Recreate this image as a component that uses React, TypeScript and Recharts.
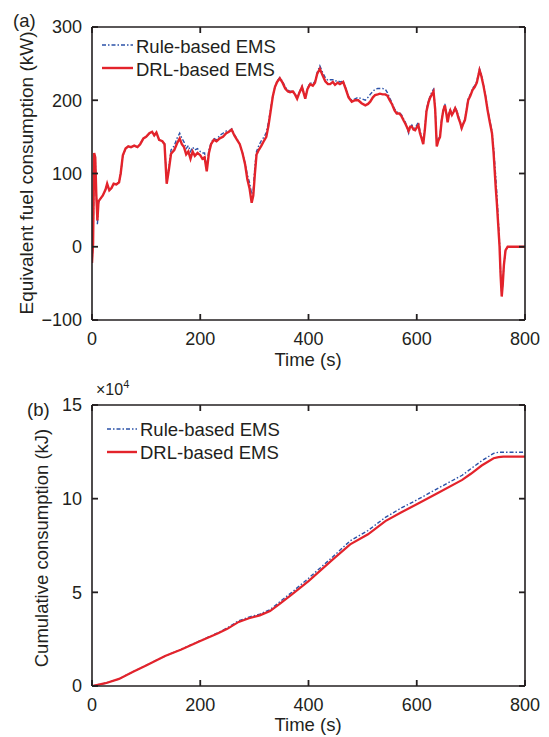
import React from 'react';
import { LineChart, Line, XAxis, YAxis } from 'recharts';

const FONT = '"Liberation Sans", Arial, Helvetica, sans-serif';
const RED = '#e3232b';
const BLUE = '#2b52a8';
const AXIS = '#231f20';

// (a) Equivalent fuel consumption (kW) vs time (s)
const timeS = [
  0, 2, 4, 6, 8, 10, 12, 16, 20, 25, 28, 32, 36, 40, 45, 50, 53, 57, 62, 67, 72, 78, 84, 89, 95, 100,
  106, 111, 115, 119, 124, 130, 134, 138, 142, 146, 152, 157, 162, 166, 170, 174, 178, 182, 186, 190,
  195, 200, 204, 208, 212, 216, 220, 225, 230, 236, 242, 248, 253, 258, 263, 268, 273, 278, 283, 287,
  291, 295, 298, 301, 304, 308, 313, 318, 322, 326, 330, 334, 338, 342, 347, 352, 357, 362, 366, 371,
  375, 379, 383, 388, 391, 394, 398, 403, 408, 412, 416, 421, 426, 431, 436, 440, 445, 449, 454, 458,
  464, 469, 474, 480, 486, 492, 498, 505, 510, 514, 519, 523, 528, 532, 537, 542, 546, 550, 554, 559,
  563, 568, 572, 576, 579, 582, 585, 588, 591, 594, 597, 600, 603, 606, 609, 612, 615, 618, 622, 625,
  628, 631, 634, 637, 640, 643, 646, 649, 652, 655, 657, 660, 662, 665, 668, 671, 674, 677, 680, 683,
  686, 689, 692, 695, 699, 703, 707, 711, 716, 719, 723, 727, 731, 735, 739, 742, 744, 746, 748, 750,
  753, 755, 757, 759, 761, 764, 768, 800,
];
const drlPower = [
  -22, 5, 128, 122, 70, 36, 62, 66, 70, 78, 86, 77, 80, 86, 85, 88, 100, 125, 134, 137, 136, 138, 136, 140, 148, 150,
  155, 157, 152, 156, 146, 144, 140, 86, 105, 127, 132, 141, 148, 140, 136, 126, 130, 120, 130, 124,
  128, 125, 120, 122, 103, 128, 140, 146, 144, 148, 150, 155, 157, 160, 152, 146, 140, 128, 112, 92,
  80, 60, 70, 100, 126, 132, 138, 145, 150, 165, 185, 205, 218, 225, 230, 224, 216, 212, 211, 212,
  208, 202, 210, 218, 210, 202, 215, 222, 220, 224, 236, 243, 234, 226, 222, 222, 225, 221, 224, 222,
  225, 215, 204, 198, 200, 200, 196, 193, 195, 198, 204, 207, 208, 209, 208, 208, 206, 200, 195, 186,
  182, 182, 178, 172, 168, 163, 158, 164, 164, 160, 159, 163, 166, 155, 148, 140, 160, 185, 198, 204,
  208, 212, 188, 137, 145, 150, 172, 186, 193, 180, 170, 182, 186, 180, 184, 189, 184, 176, 170, 162,
  168, 173, 186, 200, 206, 214, 218, 224, 241, 234, 221, 205, 186, 170, 155, 128, 104, 80, 60, 36,
  0, -40, -68, -50, -25, -5, 0, 0,
];
const rulePower = [
  -22, 5, 126, 120, 72, 30, 60, 66, 70, 78, 85, 77, 80, 85, 85, 88, 100, 124, 134, 137, 136, 138, 136, 140, 148, 150,
  155, 157, 152, 156, 146, 144, 141, 90, 108, 132, 138, 148, 155, 148, 143, 134, 138, 130, 136, 132,
  134, 130, 128, 128, 108, 132, 142, 148, 146, 152, 155, 158, 158, 161, 153, 147, 140, 128, 114, 98,
  88, 72, 78, 110, 130, 138, 145, 150, 156, 170, 188, 206, 218, 226, 231, 226, 218, 214, 212, 213,
  209, 203, 211, 219, 211, 204, 216, 224, 222, 226, 238, 247, 238, 231, 227, 228, 228, 226, 227, 225,
  226, 216, 205, 200, 202, 204, 202, 200, 204, 208, 212, 215, 216, 216, 216, 215, 210, 203, 197, 188,
  184, 183, 180, 174, 170, 162, 155, 163, 166, 162, 162, 166, 170, 158, 150, 144, 163, 188, 200, 206,
  212, 215, 190, 142, 148, 152, 174, 188, 195, 182, 174, 184, 188, 182, 186, 190, 186, 178, 172, 160,
  168, 175, 188, 202, 208, 216, 220, 226, 243, 236, 223, 207, 188, 172, 158, 135, 115, 95, 72, 45,
  5, -38, -66, -50, -25, -5, 0, 0,
];

// (b) Cumulative consumption (x10^4 kJ) vs time (s)
const cumTimeS = [0, 25, 50, 75, 100, 135, 165, 200, 232, 250, 271, 290, 310, 329, 348, 370, 400, 445, 477, 510, 542, 570, 600, 639, 684, 700, 720, 742, 751, 760, 800];
const drlCumulative = [0, 0.15, 0.38, 0.75, 1.1, 1.6, 1.95, 2.4, 2.8, 3.05, 3.42, 3.62, 3.77, 4.0, 4.41, 4.9, 5.6, 6.76, 7.56, 8.1, 8.8, 9.25, 9.7, 10.3, 11.0, 11.33, 11.77, 12.16, 12.22, 12.24, 12.24];
const ruleCumulative = [0, 0.15, 0.38, 0.75, 1.1, 1.6, 1.96, 2.42, 2.83, 3.1, 3.48, 3.68, 3.84, 4.08, 4.52, 5.02, 5.75, 6.9, 7.75, 8.3, 9.0, 9.48, 9.93, 10.55, 11.25, 11.6, 12.02, 12.42, 12.48, 12.48, 12.48];

const timeTicks = [0, 200, 400, 600, 800];
const powerTicks = [-100, 0, 100, 200, 300];
const cumTicks = [0, 5, 10, 15];

const powerData = timeS.map((t, i) => ({ t, drl: drlPower[i], rule: rulePower[i] }));
const cumData = cumTimeS.map((t, i) => ({ t, drl: drlCumulative[i], rule: ruleCumulative[i] }));

const axisLineStyle = { stroke: AXIS, strokeWidth: 1.6 };
const fmt = (v: number) => (v < 0 ? '\u2212' + Math.abs(v) : String(v));
const TL = 6; // tick length
const TW = 1.8; // tick width

function BottomTick(props: any) {
  const { x, y, payload } = props;
  return (
    <g>
      <rect x={x - TW / 2} y={y - TL} width={TW} height={TL} fill={AXIS} />
      <text x={x} y={y + 12} dy="0.71em" textAnchor="middle" fill={AXIS} fontSize={18} fontFamily={FONT}>
        {fmt(payload.value)}
      </text>
    </g>
  );
}
function TopTick(props: any) {
  const { x, y } = props;
  return <rect x={x - TW / 2} y={y} width={TW} height={TL} fill={AXIS} />;
}
function LeftTick(props: any) {
  const { x, y, payload } = props;
  return (
    <g>
      <rect x={x} y={y - TW / 2} width={TL} height={TW} fill={AXIS} />
      <text x={x - 10} y={y} dy="0.355em" textAnchor="end" fill={AXIS} fontSize={18} fontFamily={FONT}>
        {fmt(payload.value)}
      </text>
    </g>
  );
}
function RightTick(props: any) {
  const { x, y } = props;
  return <rect x={x - TL} y={y - TW / 2} width={TL} height={TW} fill={AXIS} />;
}

function renderAxes(yDomain: [number, number], yTicks: number[]) {
  return [
    <XAxis key="xb" xAxisId="b" dataKey="t" type="number" domain={[0, 800]} ticks={timeTicks} interval={0}
      orientation="bottom" height={30} tickSize={0} tickMargin={0} axisLine={axisLineStyle}
      tickLine={false} tick={<BottomTick />} allowDataOverflow />,
    <XAxis key="xt" xAxisId="t" dataKey="t" type="number" domain={[0, 800]} ticks={timeTicks} interval={0}
      orientation="top" height={1} tickSize={0} tickMargin={0} axisLine={axisLineStyle} tickLine={false}
      tick={<TopTick />} allowDataOverflow />,
    <YAxis key="yl" yAxisId="l" type="number" domain={yDomain} ticks={yTicks} interval={0} width={60}
      tickSize={0} tickMargin={0} axisLine={axisLineStyle} tickLine={false} tick={<LeftTick />}
      allowDataOverflow />,
    <YAxis key="yr" yAxisId="r" orientation="right" type="number" domain={yDomain} ticks={yTicks}
      interval={0} width={1} tickSize={0} tickMargin={0} axisLine={axisLineStyle} tickLine={false}
      tick={<RightTick />} allowDataOverflow />,
  ];
}

export default function App() {
  return (
    <div style={{ position: 'absolute', left: 0, top: 0, width: 549, height: 737, background: '#fff', overflow: 'hidden' }}>
      <div style={{ position: 'absolute', left: 0, top: 0 }}>
        <LineChart width={549} height={360} data={powerData} margin={{ top: 26, right: 23, bottom: 10, left: 32 }}>
          {renderAxes([-100, 300], powerTicks)}
          <Line xAxisId="b" yAxisId="l" dataKey="rule" type="linear" stroke={BLUE} strokeWidth={1.4}
            strokeDasharray="4 2 1.5 2" dot={false} isAnimationActive={false} />
          <Line xAxisId="b" yAxisId="l" dataKey="drl" type="linear" stroke={RED} strokeWidth={2.4}
            dot={false} isAnimationActive={false} />
        </LineChart>
      </div>
      <div style={{ position: 'absolute', left: 0, top: 370 }}>
        <LineChart width={549} height={367} data={cumData} margin={{ top: 34, right: 23, bottom: 21, left: 32 }}>
          {renderAxes([0, 15], cumTicks)}
          <Line xAxisId="b" yAxisId="l" dataKey="rule" type="linear" stroke={BLUE} strokeWidth={1.4}
            strokeDasharray="4 2 1.5 2" dot={false} isAnimationActive={false} />
          <Line xAxisId="b" yAxisId="l" dataKey="drl" type="linear" stroke={RED} strokeWidth={2.2}
            dot={false} isAnimationActive={false} />
        </LineChart>
      </div>
      <svg width={549} height={737} style={{ position: 'absolute', left: 0, top: 0, pointerEvents: 'none' }}
        fontFamily={FONT} fill={AXIS}>
        <text x={13} y={27} fontSize={18.5}>(a)</text>
        <text x={27} y={416} fontSize={18.5}>(b)</text>
        <text transform="translate(33,173) rotate(-90)" textAnchor="middle" fontSize={19}>Equivalent fuel consumption (kW)</text>
        <text transform="translate(48,548) rotate(-90)" textAnchor="middle" fontSize={18.5}>Cumulative consumption (kJ)</text>
        <text x={308} y={366} textAnchor="middle" fontSize={18.5}>Time (s)</text>
        <text x={308} y={731} textAnchor="middle" fontSize={18.5}>Time (s)</text>
        <text x={96} y={395} fontSize={16}>×10<tspan fontSize={11} dy={-7}>4</tspan></text>
        {/* legend (a) */}
        <line x1={102} y1={45} x2={133} y2={45} stroke={BLUE} strokeWidth={1.4} strokeDasharray="4 2 1.5 2" />
        <text x={136} y={52.5} fontSize={18.5}>Rule-based EMS</text>
        <line x1={102} y1={68} x2={133} y2={68} stroke={RED} strokeWidth={2.4} />
        <text x={136} y={75.5} fontSize={18.5}>DRL-based EMS</text>
        {/* legend (b) */}
        <line x1={107} y1={429} x2={137} y2={429} stroke={BLUE} strokeWidth={1.4} strokeDasharray="4 2 1.5 2" />
        <text x={140} y={435.5} fontSize={18.5}>Rule-based EMS</text>
        <line x1={107} y1={452} x2={137} y2={452} stroke={RED} strokeWidth={2.4} />
        <text x={140} y={458.5} fontSize={18.5}>DRL-based EMS</text>
      </svg>
    </div>
  );
}
